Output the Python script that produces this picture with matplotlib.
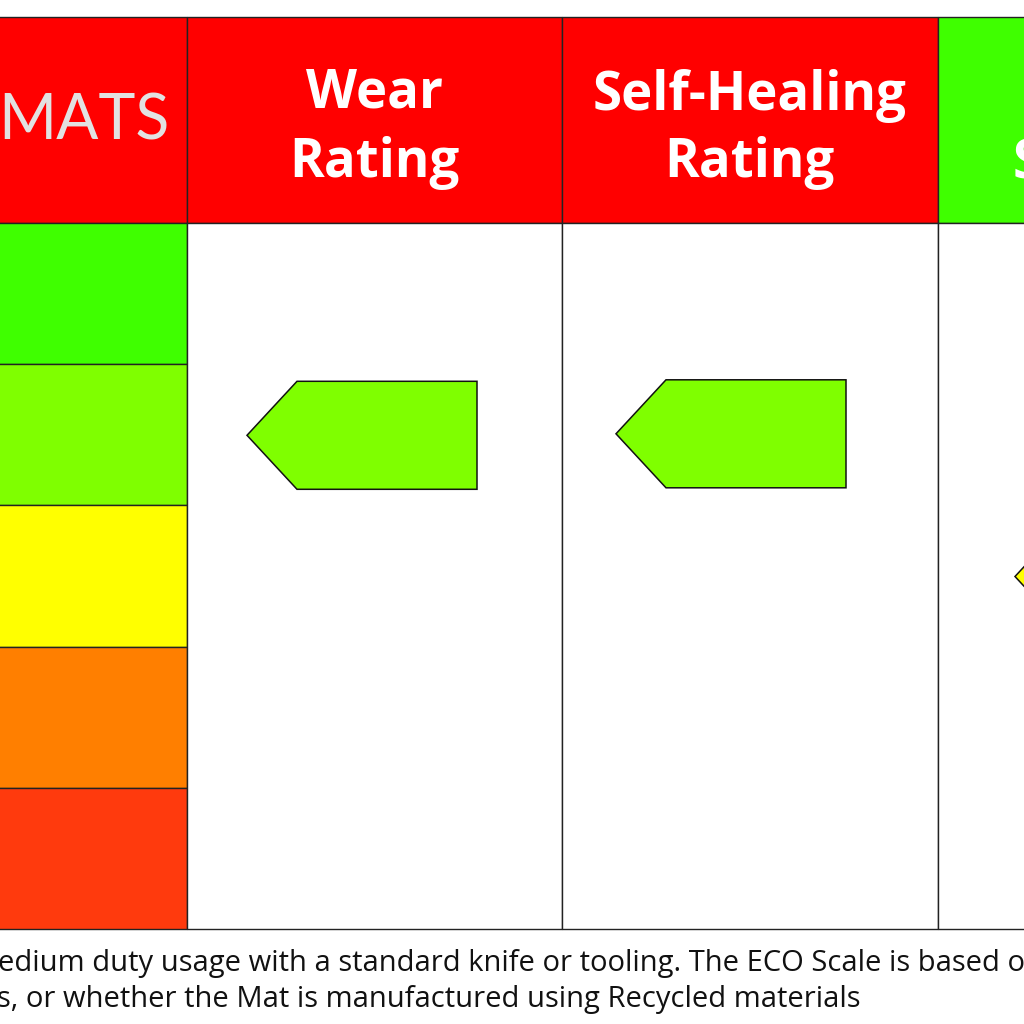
import matplotlib
matplotlib.use("Agg")
import matplotlib.pyplot as plt
from matplotlib.patches import Rectangle, Polygon

# Data
scale_colors = ["#3FFF00", "#7FFF00", "#FFFF00", "#FF7F00", "#FF3A0D"]
col_edges = [-190, 186.6, 561.6, 937.6, 1222]
header_labels = ["MATS", "Wear\nRating", "Self-Healing\nRating", "ECO\nScale"]
header_colors = ["#FF0000", "#FF0000", "#FF0000", "#3FFF00"]
rating_names = ["Wear", "Self-Healing", "ECO"]
rating_levels = [1, 1, 2]          # row index on the scale (0 = top)
rating_shift = [0.5, -1.0, 0.5]    # small offset seen in the picture
rating_left = [247, 616, 1015]
rating_colors = ["#7FFF00", "#7FFF00", "#FFFF00"]
foot_1 = "edium duty usage with a standard knife or tooling. The ECO Scale is based on"
foot_2 = "s, or whether the Mat is manufactured using Recycled materials"

TOP, HEAD, BOTTOM = 17.0, 223.0, 929.0
ROW = (BOTTOM - HEAD) / 5
LINE = "#222222"

fig = plt.figure(figsize=(10.24, 10.24), dpi=100)
ax = fig.add_axes([0, 0, 1, 1])
ax.set_xlim(0, 1024)
ax.set_ylim(1024, 0)
ax.axis("off")

# header
for i, lab in enumerate(header_labels):
    x0, x1 = col_edges[i], col_edges[i + 1]
    ax.add_patch(Rectangle((x0, TOP), x1 - x0, HEAD - TOP, fc=header_colors[i], ec=LINE, lw=1))
    if i == 0:
        ax.text(170, 122, lab, color="#E2E2E2", fontsize=45, fontfamily="Lato",
                ha="right", va="center")
    else:
        ys = [93 if i == 1 else 96, 163]
        for line, y in zip(lab.split("\n"), ys):
            ax.text((x0 + x1) / 2, y, line, color="white", fontsize=38,
                    fontfamily="Open Sans", fontweight="bold", ha="center", va="center")

# scale column
for r, c in enumerate(scale_colors):
    ax.add_patch(Rectangle((-190, HEAD + r * ROW), col_edges[1] + 190, ROW, fc=c, ec=LINE, lw=1))

# rating columns
for i in range(1, 4):
    x0, x1 = col_edges[i], col_edges[i + 1]
    ax.add_patch(Rectangle((x0, HEAD), x1 - x0, BOTTOM - HEAD, fc="white", ec=LINE, lw=1))

# rating arrows
for lev, sh, left, col in zip(rating_levels, rating_shift, rating_left, rating_colors):
    yc = HEAD + (lev + 0.5) * ROW + sh
    pts = [(left, yc), (left + 50, yc - 54), (left + 230, yc - 54),
           (left + 230, yc + 54), (left + 50, yc + 54)]
    ax.add_patch(Polygon(pts, closed=True, fc=col, ec="#111111", lw=1.1))

# footnote
ax.text(-2, 964, foot_1, fontsize=21, fontfamily="Open Sans", color="#111111", va="center", ha="left")
ax.text(-3, 1000, foot_2, fontsize=21, fontfamily="Open Sans", color="#111111", va="center", ha="left")

fig.savefig("out.png", dpi=100, facecolor="white")
